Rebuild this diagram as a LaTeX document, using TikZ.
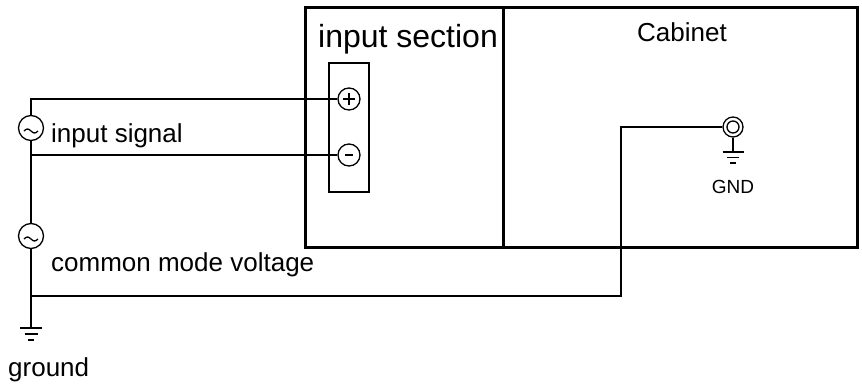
\documentclass[tikz,border=0pt]{standalone}
\usepackage{fontspec}
\setmainfont{Liberation Sans}
\begin{document}
\begin{tikzpicture}[x=1pt,y=-1pt,
  wire/.style={line width=1.3pt},
  frame/.style={draw,line width=3pt,inner sep=0pt},
  src/.style={circle,draw,line width=1.3pt,minimum size=25pt,inner sep=0pt},
  term/.style={circle,draw,line width=1.3pt,minimum size=22pt,inner sep=0pt},
  lbl/.style={font=\fontsize{26}{30}\selectfont,inner sep=0pt},
  biglbl/.style={font=\fontsize{32}{36}\selectfont,inner sep=0pt},
  smalllbl/.style={font=\fontsize{19}{22}\selectfont,inner sep=0pt}]
\useasboundingbox (0,0) rectangle (862,383);
% boxes
\node[frame,minimum width=198pt,minimum height=240pt] (insec) at (404,127) {};
\node[frame,minimum width=354pt,minimum height=240pt] (cab) at (680,127) {};
\node[draw,wire,minimum width=40pt,minimum height=129pt,inner sep=0pt] (blk) at (349,127.5) {};
% terminals
\node[term] (tp) at (349,99) {};
\node[term] (tm) at (349,155) {};
\draw[line width=1.6pt] (tp.center) +(-6,0) -- +(6,0);
\draw[line width=1.6pt] (tp.center) +(0,-6) -- +(0,6);
\draw[line width=2pt] (tm.center) +(-4,0) -- +(4,0);
% sources
\node[src] (s1) at (31,128) {};
\node[src] (s2) at (31,236) {};
\draw[wire] (s1.center) ++(-7,3) sin ++(3.5,-2) cos ++(3.5,2) sin ++(3.5,2) cos ++(3.5,-2);
\draw[wire] (s2.center) ++(-7,3) sin ++(3.5,-2) cos ++(3.5,2) sin ++(3.5,2) cos ++(3.5,-2);
% GND connector
\node[circle,draw,wire,minimum size=20pt,inner sep=0pt] (gc) at (733,127) {};
\draw[wire] (gc.center) circle (6);
% coordinates
\coordinate (top) at (31,99);
\coordinate (j1) at (31,155);
\coordinate (j2) at (31,296);
\coordinate (gl) at (31,328);
\coordinate (bend) at (621,127);
\coordinate (gr) at (733,152);
% wires
\draw[wire] (tp.west) -- (top) -- (s1.north);
\draw[wire] (s1.south) -- (j1) -- (s2.north);
\draw[wire] (j1) -- (tm.west);
\draw[wire] (s2.south) -- (gl);
\draw[wire] (j2) -| (bend) -- (gc.west);
\draw[wire] (gc.south) -- (gr);
% ground symbols
\draw[wire] (gl) +(-11,0) -- +(11,0);
\draw[wire] (gl) +(-6.5,6) -- +(6.5,6);
\draw[wire] (gl) +(-3,12) -- +(3,12);
\draw[wire] (gr) +(-10.5,0) -- +(10.5,0);
\draw[wire] (gr) +(-6,5.5) -- +(6,5.5);
\draw[wire] (gr) +(-3,11) -- +(3,11);
% labels
\node[biglbl,anchor=base west] (tsec) at (318,47) {input section};
\node[lbl,anchor=base] (tcab) at (682,41) {Cabinet};
\node[lbl,anchor=base west] (tsig) at (51,142) {input signal};
\node[lbl,anchor=base west] (tcm) at (51,271) {common mode voltage};
\node[lbl,anchor=base west] (tgnd) at (8,376) {ground};
\node[smalllbl,anchor=base] (tGND) at (733,193) {GND};
\end{tikzpicture}
\end{document}
